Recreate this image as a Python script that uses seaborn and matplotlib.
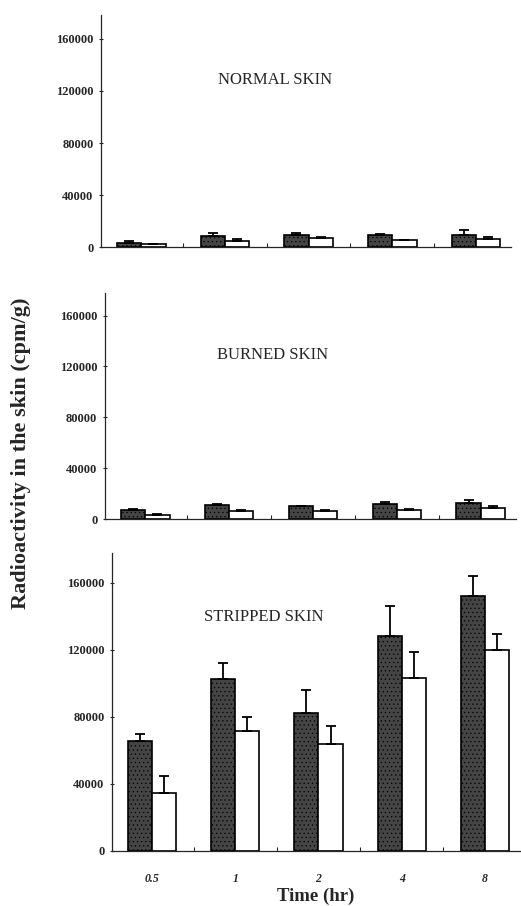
import numpy as np
import pandas as pd
import matplotlib
matplotlib.use("Agg")
import matplotlib.pyplot as plt
import seaborn as sns

# ── Data ─────────────────────────────────────────────────────────────────
TIMES = ["0.5", "1", "2", "4", "8"]
GROUPS = ["A", "B"]

normal_a = [3600, 8500, 9800, 9500, 9800]
normal_a_err = [900, 2500, 1000, 500, 3300]
normal_b = [2300, 4600, 7000, 5400, 6200]
normal_b_err = [300, 1800, 700, 600, 1500]

burned_a = [7000, 10900, 10100, 12200, 13000]
burned_a_err = [1300, 1300, 400, 1300, 1800]
burned_b = [3100, 6200, 6200, 7500, 8800]
burned_b_err = [800, 800, 800, 800, 1300]

stripped_a = [65500, 102500, 82500, 128400, 152400]
stripped_a_err = [4300, 9500, 13400, 18000, 11400]
stripped_b = [34500, 71500, 63900, 103100, 119700]
stripped_b_err = [10400, 8400, 10600, 15300, 9900]

PANELS = [
    ("NORMAL SKIN", normal_a, normal_a_err, normal_b, normal_b_err),
    ("BURNED SKIN", burned_a, burned_a_err, burned_b, burned_b_err),
    ("STRIPPED SKIN", stripped_a, stripped_a_err, stripped_b, stripped_b_err),
]
YTICKS = [0, 40000, 80000, 120000, 160000]

# ── Style ────────────────────────────────────────────────────────────────
sns.set_style("ticks")
plt.rcParams["font.family"] = ["Liberation Serif", "DejaVu Serif"]
plt.rcParams["hatch.linewidth"] = 0.4

# axes rects [left, bottom, width, height] in figure fraction
RECTS = [
    [0.194, 0.727, 0.787, 0.256],
    [0.2015, 0.427, 0.789, 0.250],
    [0.215, 0.061, 0.783, 0.329],
]
TITLE_POS = [(0.285, 0.72), (0.272, 0.726), (0.225, 0.785)]

fig = plt.figure(figsize=(5.21, 9.06), dpi=100)

for i, (title, a, a_err, b, b_err) in enumerate(PANELS):
    ax = fig.add_axes(RECTS[i])
    df = pd.DataFrame({
        "time": TIMES * 2,
        "group": ["A"] * 5 + ["B"] * 5,
        "value": a + b,
    })
    sns.barplot(data=df, x="time", y="value", hue="group", order=TIMES,
                hue_order=GROUPS, palette=["#454545", "white"], width=0.58,
                errorbar=None, edgecolor="black", linewidth=1.2, ax=ax,
                legend=False)

    # stipple on the dark bars, upward-only error bars
    errs = a_err + b_err
    vals = a + b
    for k, patch in enumerate(ax.patches[:10]):
        if k < 5:
            patch.set_hatch("....")
        xc = patch.get_x() + patch.get_width() / 2
        ax.errorbar(xc, vals[k], yerr=[[0], [errs[k]]], fmt="none",
                    ecolor="black", elinewidth=1.3, capsize=3.5, capthick=1.3)

    ax.set_xlim(-0.48, 4.42)
    ax.set_ylim(0, 178000)
    ax.set_yticks(YTICKS)
    ax.set_yticklabels([str(t) for t in YTICKS], fontsize=9, fontweight="bold")
    ax.set_xticks(np.arange(0.5, 4.5, 1.0), minor=True)
    ax.tick_params(axis="x", which="major", length=0)
    ax.tick_params(axis="x", which="minor", direction="in", length=3, width=0.8)
    ax.tick_params(axis="y", direction="inout", length=3, width=0.8, pad=4)
    sns.despine(ax=ax)
    ax.spines["left"].set_linewidth(0.9)
    ax.spines["bottom"].set_linewidth(0.9)
    ax.set_ylabel("")
    ax.set_xlabel("")
    if i < 2:
        ax.set_xticklabels([])
    else:
        ax.set_xticklabels(TIMES, fontsize=8.5, fontweight="bold", fontstyle="italic")
        ax.tick_params(axis="x", which="major", pad=16)
        ax.set_xlabel("Time (hr)", fontsize=13.5, fontweight="bold", labelpad=2)

    ax.text(TITLE_POS[i][0], TITLE_POS[i][1], title, transform=ax.transAxes,
            fontsize=12, ha="left", va="center")

fig.text(0.04, 0.50, "Radioactivity in the skin (cpm/g)", rotation=90,
         fontsize=16, fontweight="bold", ha="center", va="center")

fig.savefig("out.png", dpi=100)
